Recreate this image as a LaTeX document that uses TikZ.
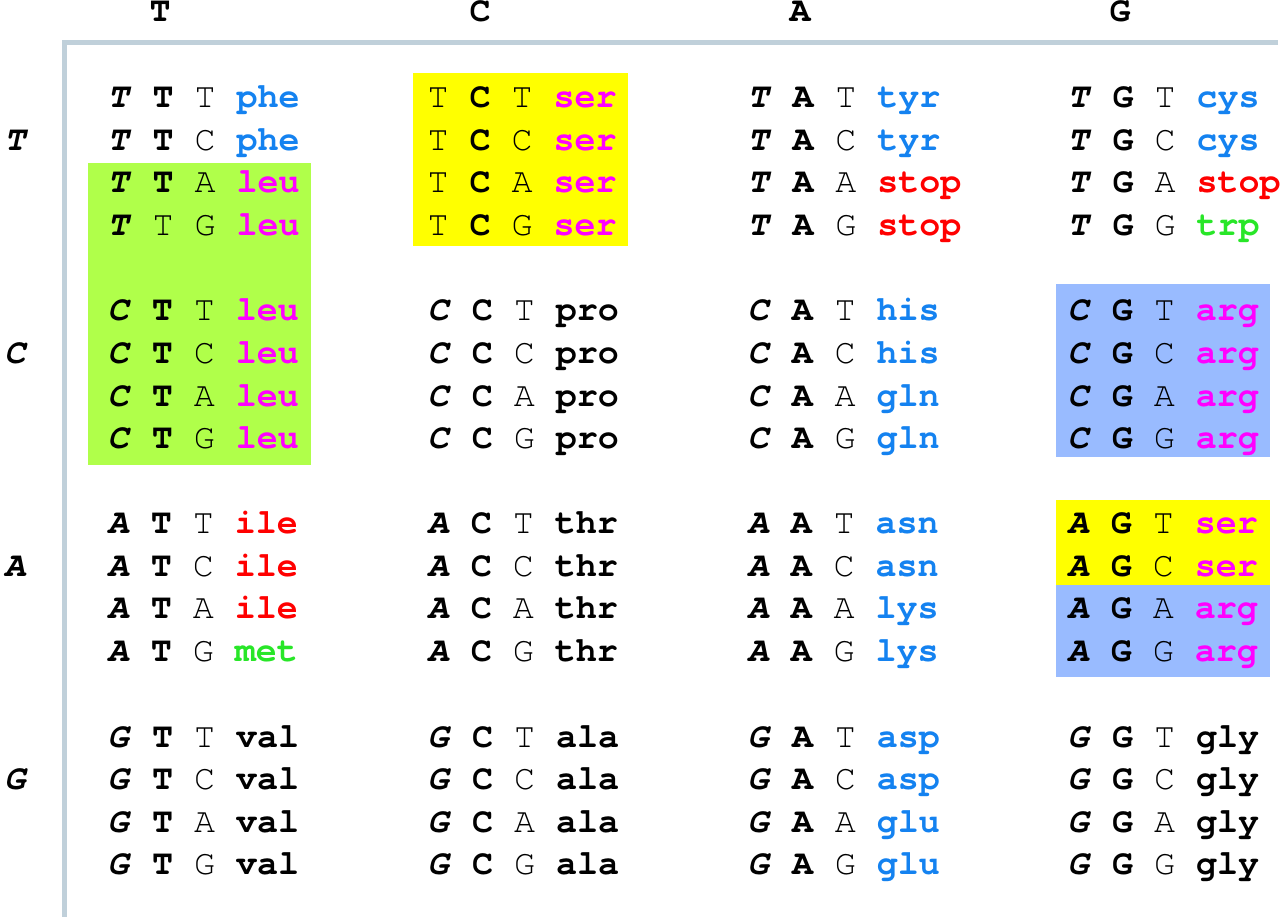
\documentclass[tikz,border=0pt]{standalone}
\usepackage{fontspec}
\newfontfamily\codonfont{TeX Gyre Cursor}
\usetikzlibrary{positioning}
\definecolor{aablue}{RGB}{20,130,240}
\definecolor{aamagenta}{RGB}{255,0,255}
\definecolor{aared}{RGB}{255,0,0}
\definecolor{aagreen}{RGB}{40,230,40}
\definecolor{boxgreen}{RGB}{176,255,74}
\definecolor{boxyellow}{RGB}{255,255,0}
\definecolor{boxblue}{RGB}{153,187,255}
\definecolor{rulegray}{RGB}{192,208,218}
\newcommand{\cdn}[4]{\textbf{\textit{#1}} \textbf{#2} #3 #4}
\newcommand{\amino}[2]{\textbf{\color{#1}#2}}
\tikzset{
    codon/.style={anchor=base west,inner sep=0pt,font=\codonfont\fontsize{35}{42}\selectfont},
    headlabel/.style={anchor=base,inner sep=0pt,font=\codonfont\fontsize{35}{42}\selectfont\bfseries},
    sidelabel/.style={headlabel,font=\codonfont\fontsize{35}{42}\selectfont\bfseries\itshape}
}
\begin{document}
\begin{tikzpicture}[x=1pt,y=-1pt]
		\useasboundingbox (0,0) rectangle (1280,917);
		% highlighted groups
		\fill[boxgreen] (88,163) rectangle (311,465);
		\fill[boxyellow] (413,73) rectangle (628,246);
		\fill[boxblue] (1056,284) rectangle (1270,457);
		\fill[boxyellow] (1056,500) rectangle (1270,585);
		\fill[boxblue] (1056,585) rectangle (1270,677);
		% frame
		\draw[rulegray,line width=5pt] (1278,43) -- (64,43) -- (64,917);
		% second base
		\node[headlabel] (hT) at (160,22) {T};
		\node[headlabel] (hC) at (480,22) {C};
		\node[headlabel] (hA) at (800,22) {A};
		\node[headlabel] (hG) at (1120,22) {G};
		% first base
		\node[sidelabel] (sT) at (15,150.5) {T};
		\node[sidelabel] (sC) at (15,363.5) {C};
		\node[sidelabel] (sA) at (15,576) {A};
		\node[sidelabel] (sG) at (15,789.5) {G};
		% T T x
		\node[codon] (TTT) at (107.5,108) {\cdn{T}{T}{T}{\amino{aablue}{phe}}};
		\node[codon] (TTC) at (107.5,150.5) {\cdn{T}{T}{C}{\amino{aablue}{phe}}};
		\node[codon] (TTA) at (107.5,193) {\cdn{T}{T}{A}{\amino{aamagenta}{leu}}};
		\node[codon] (TTG) at (107.5,235.5) {\textbf{\textit{T}} T G \amino{aamagenta}{leu}};
		% T C x
		\node[codon] (TCT) at (427.5,108) {T \textbf{C} T \amino{aamagenta}{ser}};
		\node[codon] (TCC) at (427.5,150.5) {T \textbf{C} C \amino{aamagenta}{ser}};
		\node[codon] (TCA) at (427.5,193) {T \textbf{C} A \amino{aamagenta}{ser}};
		\node[codon] (TCG) at (427.5,235.5) {T \textbf{C} G \amino{aamagenta}{ser}};
		% T A x
		\node[codon] (TAT) at (747.5,108) {\cdn{T}{A}{T}{\amino{aablue}{tyr}}};
		\node[codon] (TAC) at (747.5,150.5) {\cdn{T}{A}{C}{\amino{aablue}{tyr}}};
		\node[codon] (TAA) at (747.5,193) {\cdn{T}{A}{A}{\amino{aared}{stop}}};
		\node[codon] (TAG) at (747.5,235.5) {\cdn{T}{A}{G}{\amino{aared}{stop}}};
		% T G x
		\node[codon] (TGT) at (1067.5,108) {\cdn{T}{G}{T}{\amino{aablue}{cys}}};
		\node[codon] (TGC) at (1067.5,150.5) {\cdn{T}{G}{C}{\amino{aablue}{cys}}};
		\node[codon] (TGA) at (1067.5,193) {\cdn{T}{G}{A}{\amino{aared}{stop}}};
		\node[codon] (TGG) at (1067.5,235.5) {\cdn{T}{G}{G}{\amino{aagreen}{trp}}};
		% C T x
		\node[codon] (CTT) at (107.5,321) {\cdn{C}{T}{T}{\amino{aamagenta}{leu}}};
		\node[codon] (CTC) at (107.5,363.5) {\cdn{C}{T}{C}{\amino{aamagenta}{leu}}};
		\node[codon] (CTA) at (107.5,406) {\cdn{C}{T}{A}{\amino{aamagenta}{leu}}};
		\node[codon] (CTG) at (107.5,448.5) {\cdn{C}{T}{G}{\amino{aamagenta}{leu}}};
		% C C x
		\node[codon] (CCT) at (427.5,321) {\cdn{C}{C}{T}{\textbf{pro}}};
		\node[codon] (CCC) at (427.5,363.5) {\cdn{C}{C}{C}{\textbf{pro}}};
		\node[codon] (CCA) at (427.5,406) {\cdn{C}{C}{A}{\textbf{pro}}};
		\node[codon] (CCG) at (427.5,448.5) {\cdn{C}{C}{G}{\textbf{pro}}};
		% C A x
		\node[codon] (CAT) at (747.5,321) {\cdn{C}{A}{T}{\amino{aablue}{his}}};
		\node[codon] (CAC) at (747.5,363.5) {\cdn{C}{A}{C}{\amino{aablue}{his}}};
		\node[codon] (CAA) at (747.5,406) {\cdn{C}{A}{A}{\amino{aablue}{gln}}};
		\node[codon] (CAG) at (747.5,448.5) {\cdn{C}{A}{G}{\amino{aablue}{gln}}};
		% C G x
		\node[codon] (CGT) at (1067.5,321) {\cdn{C}{G}{T}{\amino{aamagenta}{arg}}};
		\node[codon] (CGC) at (1067.5,363.5) {\cdn{C}{G}{C}{\amino{aamagenta}{arg}}};
		\node[codon] (CGA) at (1067.5,406) {\cdn{C}{G}{A}{\amino{aamagenta}{arg}}};
		\node[codon] (CGG) at (1067.5,448.5) {\cdn{C}{G}{G}{\amino{aamagenta}{arg}}};
		% A T x
		\node[codon] (ATT) at (107.5,533.5) {\cdn{A}{T}{T}{\amino{aared}{ile}}};
		\node[codon] (ATC) at (107.5,576) {\cdn{A}{T}{C}{\amino{aared}{ile}}};
		\node[codon] (ATA) at (107.5,618.5) {\cdn{A}{T}{A}{\amino{aared}{ile}}};
		\node[codon] (ATG) at (107.5,661) {\cdn{A}{T}{G}{\amino{aagreen}{met}}};
		% A C x
		\node[codon] (ACT) at (427.5,533.5) {\cdn{A}{C}{T}{\textbf{thr}}};
		\node[codon] (ACC) at (427.5,576) {\cdn{A}{C}{C}{\textbf{thr}}};
		\node[codon] (ACA) at (427.5,618.5) {\cdn{A}{C}{A}{\textbf{thr}}};
		\node[codon] (ACG) at (427.5,661) {\cdn{A}{C}{G}{\textbf{thr}}};
		% A A x
		\node[codon] (AAT) at (747.5,533.5) {\cdn{A}{A}{T}{\amino{aablue}{asn}}};
		\node[codon] (AAC) at (747.5,576) {\cdn{A}{A}{C}{\amino{aablue}{asn}}};
		\node[codon] (AAA) at (747.5,618.5) {\cdn{A}{A}{A}{\amino{aablue}{lys}}};
		\node[codon] (AAG) at (747.5,661) {\cdn{A}{A}{G}{\amino{aablue}{lys}}};
		% A G x
		\node[codon] (AGT) at (1067.5,533.5) {\cdn{A}{G}{T}{\amino{aamagenta}{ser}}};
		\node[codon] (AGC) at (1067.5,576) {\cdn{A}{G}{C}{\amino{aamagenta}{ser}}};
		\node[codon] (AGA) at (1067.5,618.5) {\cdn{A}{G}{A}{\amino{aamagenta}{arg}}};
		\node[codon] (AGG) at (1067.5,661) {\cdn{A}{G}{G}{\amino{aamagenta}{arg}}};
		% G T x
		\node[codon] (GTT) at (107.5,747) {\cdn{G}{T}{T}{\textbf{val}}};
		\node[codon] (GTC) at (107.5,789.5) {\cdn{G}{T}{C}{\textbf{val}}};
		\node[codon] (GTA) at (107.5,832) {\cdn{G}{T}{A}{\textbf{val}}};
		\node[codon] (GTG) at (107.5,874.5) {\cdn{G}{T}{G}{\textbf{val}}};
		% G C x
		\node[codon] (GCT) at (427.5,747) {\cdn{G}{C}{T}{\textbf{ala}}};
		\node[codon] (GCC) at (427.5,789.5) {\cdn{G}{C}{C}{\textbf{ala}}};
		\node[codon] (GCA) at (427.5,832) {\cdn{G}{C}{A}{\textbf{ala}}};
		\node[codon] (GCG) at (427.5,874.5) {\cdn{G}{C}{G}{\textbf{ala}}};
		% G A x
		\node[codon] (GAT) at (747.5,747) {\cdn{G}{A}{T}{\amino{aablue}{asp}}};
		\node[codon] (GAC) at (747.5,789.5) {\cdn{G}{A}{C}{\amino{aablue}{asp}}};
		\node[codon] (GAA) at (747.5,832) {\cdn{G}{A}{A}{\amino{aablue}{glu}}};
		\node[codon] (GAG) at (747.5,874.5) {\cdn{G}{A}{G}{\amino{aablue}{glu}}};
		% G G x
		\node[codon] (GGT) at (1067.5,747) {\cdn{G}{G}{T}{\textbf{gly}}};
		\node[codon] (GGC) at (1067.5,789.5) {\cdn{G}{G}{C}{\textbf{gly}}};
		\node[codon] (GGA) at (1067.5,832) {\cdn{G}{G}{A}{\textbf{gly}}};
		\node[codon] (GGG) at (1067.5,874.5) {\cdn{G}{G}{G}{\textbf{gly}}};
	\end{tikzpicture}
\end{document}
